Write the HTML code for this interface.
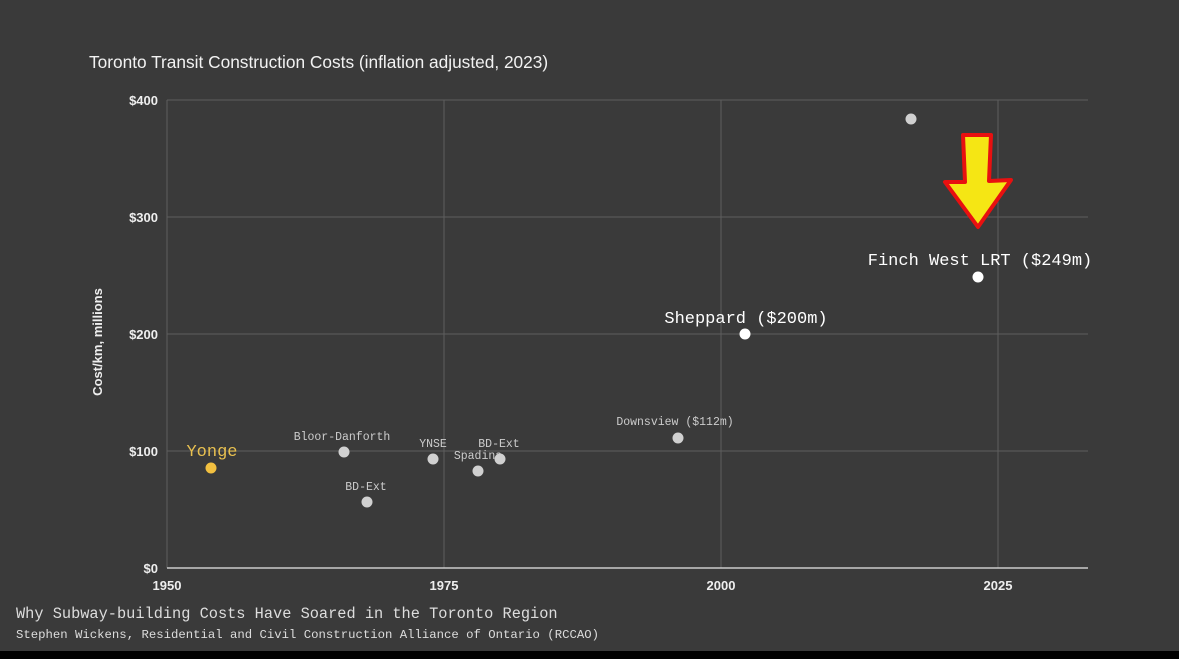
<!DOCTYPE html>
<html><head><meta charset="utf-8"><style>
html,body{margin:0;padding:0;background:#3a3a3a;}
svg{display:block}
</style></head><body>
<svg width="1179" height="659" xmlns="http://www.w3.org/2000/svg">
<rect width="1179" height="659" fill="#3a3a3a"/>
<rect y="651" width="1179" height="8" fill="#000"/>
<text x="89" y="68" font-family="Liberation Sans, sans-serif" font-size="17.3" fill="#f2f2f2">Toronto Transit Construction Costs (inflation adjusted, 2023)</text>
<g stroke="#5e5e5e" stroke-width="1">
<line x1="167" y1="100" x2="1088" y2="100"/>
<line x1="167" y1="217" x2="1088" y2="217"/>
<line x1="167" y1="334" x2="1088" y2="334"/>
<line x1="167" y1="451" x2="1088" y2="451"/>
<line x1="167" y1="100" x2="167" y2="568"/>
<line x1="444" y1="100" x2="444" y2="568"/>
<line x1="721" y1="100" x2="721" y2="568"/>
<line x1="998" y1="100" x2="998" y2="568"/>
</g>
<line x1="167" y1="568" x2="1088" y2="568" stroke="#e6e6e6" stroke-width="1.2"/>
<g font-family="Liberation Sans, sans-serif" font-size="13" font-weight="bold" fill="#eee" text-anchor="end">
<text x="158" y="105">$400</text>
<text x="158" y="222">$300</text>
<text x="158" y="339">$200</text>
<text x="158" y="456">$100</text>
<text x="158" y="573">$0</text>
</g>
<g font-family="Liberation Sans, sans-serif" font-size="13" font-weight="bold" fill="#eee" text-anchor="middle">
<text x="167" y="590">1950</text>
<text x="444" y="590">1975</text>
<text x="721" y="590">2000</text>
<text x="998" y="590">2025</text>
</g>
<text transform="translate(102,342) rotate(-90)" font-family="Liberation Sans, sans-serif" font-size="13" font-weight="bold" fill="#eee" text-anchor="middle">Cost/km, millions</text>
<g font-family="Liberation Mono, monospace" font-size="11.5" fill="#ccc" text-anchor="middle">
<text x="342" y="440">Bloor-Danforth</text>
<text x="433" y="447">YNSE</text>
<text x="499" y="447">BD-Ext</text>
<text x="478" y="459">Spadina</text>
<text x="366" y="490">BD-Ext</text>
<text x="675" y="425">Downsview ($112m)</text>
</g>
<text x="212" y="456" font-family="Liberation Mono, monospace" font-size="17" fill="#e8c050" text-anchor="middle">Yonge</text>
<text x="746" y="323" font-family="Liberation Mono, monospace" font-size="17" fill="#fff" text-anchor="middle">Sheppard ($200m)</text>
<text x="980" y="265" font-family="Liberation Mono, monospace" font-size="17" fill="#fff" text-anchor="middle">Finch West LRT ($249m)</text>
<g fill="#d0d0d0">
<circle cx="344" cy="452" r="5.5"/>
<circle cx="433" cy="459" r="5.5"/>
<circle cx="500" cy="459" r="5.5"/>
<circle cx="478" cy="471" r="5.5"/>
<circle cx="367" cy="502" r="5.5"/>
<circle cx="678" cy="438" r="5.5"/>
<circle cx="911" cy="119" r="5.5"/>
</g>
<circle cx="211" cy="468" r="5.5" fill="#f2c040"/>
<circle cx="745" cy="334" r="5.5" fill="#fff"/>
<circle cx="978" cy="277" r="5.5" fill="#fff"/>
<polygon points="963,135 991,135 989,181 1011,180 978,227 945,182 965,182" fill="#f5e614" stroke="#e81010" stroke-width="4" stroke-linejoin="round"/>
<text x="16" y="618" font-family="Liberation Mono, monospace" font-size="15.3" fill="#ddd">Why Subway-building Costs Have Soared in the Toronto Region</text>
<text x="16" y="638" font-family="Liberation Mono, monospace" font-size="12.3" fill="#ddd">Stephen Wickens, Residential and Civil Construction Alliance of Ontario (RCCAO)</text>
</svg>
</body></html>
